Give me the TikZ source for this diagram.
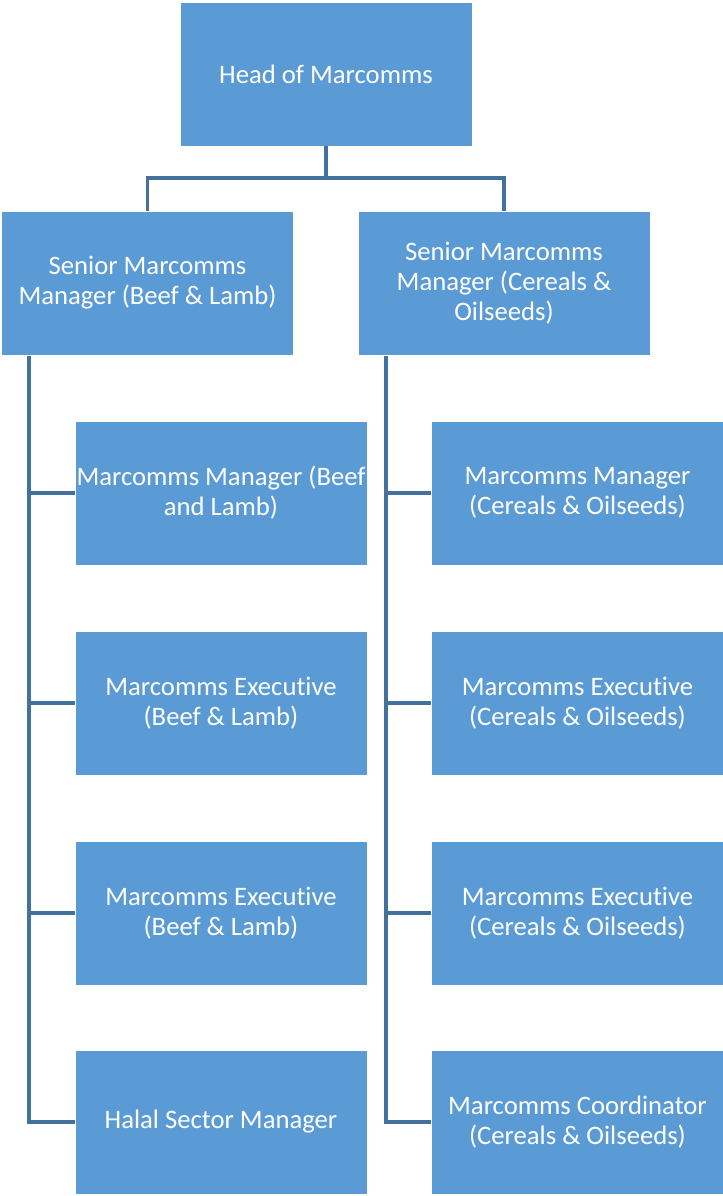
\documentclass[tikz,border=0pt]{standalone}
\usepackage{fontspec}
\setmainfont{Carlito}[Ligatures=NoCommon]
\definecolor{boxblue}{HTML}{5B9BD5}
\definecolor{lineblue}{HTML}{41719C}

\begin{document}
\begin{tikzpicture}[x=0.75pt,y=-0.75pt,
    role/.style={draw=white,line width=0.4pt,fill=boxblue,text=white,
      minimum width=219pt,minimum height=108pt,align=center,inner sep=0pt,
      font=\fontsize{20}{22.5}\selectfont},
    link/.style={draw=lineblue,line width=2.3pt}]
        \useasboundingbox (0,0) rectangle (723,1196);

        \node [role] (head) at (326,74) {Head of Marcomms};
        \node [role] (sbl) at (147.5,283) {Senior Marcomms\\Manager (Beef \& Lamb)};
        \node [role] (sco) at (504,283) {Senior Marcomms\\Manager (Cereals \&\\Oilseeds)};

        % Beef & Lamb column.
        \node [role] (bl1) at (221,493) {Marcomms Manager (Beef\\and Lamb)};
        \node [role] (bl2) at (221,703) {Marcomms Executive\\(Beef \& Lamb)};
        \node [role] (bl3) at (221,913) {Marcomms Executive\\(Beef \& Lamb)};
        \node [role] (bl4) at (221,1122) {Halal Sector Manager};

        % Cereals & Oilseeds column.
        \node [role] (co1) at (577.5,493) {Marcomms Manager\\(Cereals \& Oilseeds)};
        \node [role] (co2) at (577.5,703) {Marcomms Executive\\(Cereals \& Oilseeds)};
        \node [role] (co3) at (577.5,913) {Marcomms Executive\\(Cereals \& Oilseeds)};
        \node [role] (co4) at (577.5,1122) {Marcomms Coordinator\\(Cereals \& Oilseeds)};

        \coordinate (hub) at (326,178);
        \coordinate (ltrunk) at (29,356);
        \coordinate (rtrunk) at (386,356);

        \draw [link] (head) -- (hub);
        \draw [link] (hub) -| (sbl);
        \draw [link] (hub) -| (sco);

        \draw [link] (ltrunk) |- (bl4.west);
        \draw [link] (bl1.west) -- (bl1.west -| ltrunk);
        \draw [link] (bl2.west) -- (bl2.west -| ltrunk);
        \draw [link] (bl3.west) -- (bl3.west -| ltrunk);

        \draw [link] (rtrunk) |- (co4.west);
        \draw [link] (co1.west) -- (co1.west -| rtrunk);
        \draw [link] (co2.west) -- (co2.west -| rtrunk);
        \draw [link] (co3.west) -- (co3.west -| rtrunk);
      \end{tikzpicture}
\end{document}
